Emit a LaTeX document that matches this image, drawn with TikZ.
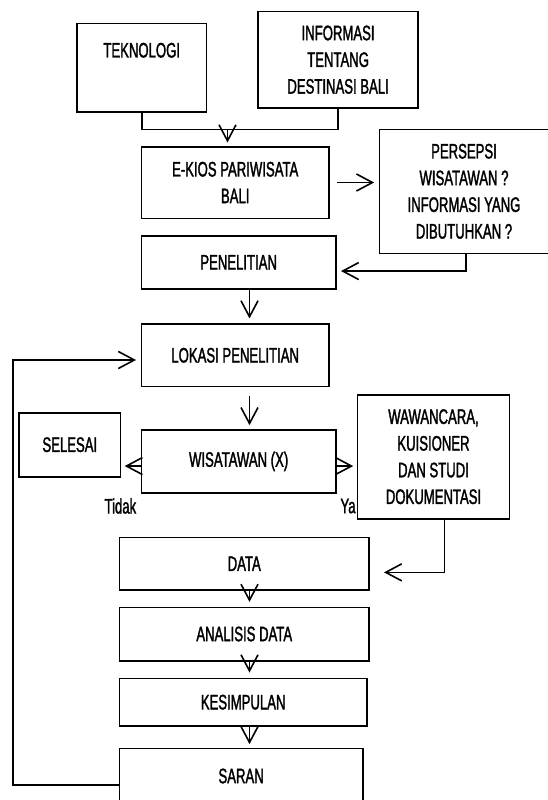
\documentclass[tikz,border=0pt]{standalone}
\usepackage{fontspec}
\setmainfont{Liberation Sans}[FakeStretch=0.625, FakeBold=1.5]
\usetikzlibrary{arrows.meta}
\tikzset{
	box/.style = {
		draw,
		rectangle,
		line width=1.6pt,
		align=center,
		inner sep=0pt,
		font=\fontsize{21}{26.7}\selectfont
	},
	answer/.style = {
		font=\fontsize{21}{24}\selectfont
	}
}
\tikzstyle{arrow} = [-{Straight Barb[length=16pt,width=17pt]}, line width=1.6pt]
\tikzstyle{connect} = [line width=1.6pt]

\begin{document}
\begin{tikzpicture}[x=1pt, y=-1pt]
\useasboundingbox (0,0) rectangle (547,800);

\node[box, anchor=north, minimum width=129.8pt, text height=34pt, text depth=54.3pt] (tek) at (141.7,22.7) {TEKNOLOGI};
\node[box, minimum width=159.8pt, minimum height=96pt] (info) at (338.1,59.7) {INFORMASI\\TENTANG\\DESTINASI BALI};
\node[box, minimum width=187.7pt, minimum height=71.6pt] (ekios) at (235.2,182.5) {E-KIOS PARIWISATA\\BALI};
\node[box, minimum width=168.9pt, minimum height=124pt] (persepsi) at (464,191.3) {PERSEPSI\\WISATAWAN ?\\INFORMASI YANG\\DIBUTUHKAN ?};
\node[box, minimum width=194.7pt, minimum height=53.3pt] (penelitian) at (238.65,262.35) {PENELITIAN};
\node[box, minimum width=187.7pt, minimum height=62.7pt] (lokasi) at (235.2,355.3) {LOKASI PENELITIAN};
\node[box, minimum width=194.7pt, minimum height=62.7pt] (wisatawan) at (238.65,461.35) {WISATAWAN (X)};
\node[box, minimum width=101.2pt, minimum height=64pt] (selesai) at (69.8,444.7) {SELESAI};
\node[box, minimum width=151.8pt, minimum height=124pt] (wawancara) at (433.5,456.7) {WAWANCARA,\\KUISIONER\\DAN STUDI\\DOKUMENTASI};
\node[box, minimum width=249.9pt, minimum height=52.7pt] (data) at (244.25,563.65) {DATA};
\node[box, minimum width=249.9pt, minimum height=53.4pt] (analisis) at (244.25,634) {ANALISIS DATA};
\node[box, minimum width=247.7pt, minimum height=47.7pt] (kesimpulan) at (243.15,702.15) {KESIMPULAN};
\node[box, minimum width=243.6pt, minimum height=55.4pt] (saran) at (241.1,776) {SARAN};

\node[answer] (tidak) at (120.4,506) {Tidak};
\node[answer] (ya) at (348,506) {Ya};

\coordinate (merge) at (227.5,129.3);
\coordinate (spine) at (249.5,0);
\coordinate (rail) at (12.9,0);

\draw[connect] (tek.south) |- (merge) -| (info.south);
\draw[arrow, shorten >=3.4pt] (merge) -- (merge |- ekios.north);
\draw[arrow, shorten <=7pt, shorten >=4.6pt] (ekios.east) -- (ekios.east -| persepsi.west);
\draw[arrow, shorten >=4.2pt] ([xshift=2pt]persepsi.south) |- ([yshift=-8.7pt]penelitian.east);
\draw[arrow, shorten >=4.7pt] (penelitian.south -| spine) -- (lokasi.north -| spine);
\draw[arrow, shorten <=8.3pt, shorten >=4pt] (lokasi.south -| spine) -- (wisatawan.north -| spine);
\draw[arrow, shorten >=3.5pt] ([yshift=-4.7pt]wisatawan.west) -- ([yshift=-4.7pt]wisatawan.west -| selesai.east);
\draw[arrow, shorten >=3.6pt] ([yshift=-4.7pt]wisatawan.east) -- ([yshift=-4.7pt]wisatawan.east -| wawancara.west);
\draw[arrow, shorten >=14pt] ([xshift=10.8pt]wawancara.south) |- ([yshift=-8.7pt]data.east);
\draw[arrow, shorten >=4.6pt] (data.south -| spine) -- (analisis.north -| spine);
\draw[arrow, shorten >=5pt] (analisis.south -| spine) -- (kesimpulan.north -| spine);
\draw[arrow, shorten >=3.3pt] (kesimpulan.south -| spine) -- (saran.north -| spine);
\draw[arrow, shorten >=4.5pt] ([yshift=-9pt]saran.west) -| ([yshift=-4.7pt]rail |- lokasi.west) -- ([yshift=-4.7pt]lokasi.west);
\end{tikzpicture}
\end{document}
